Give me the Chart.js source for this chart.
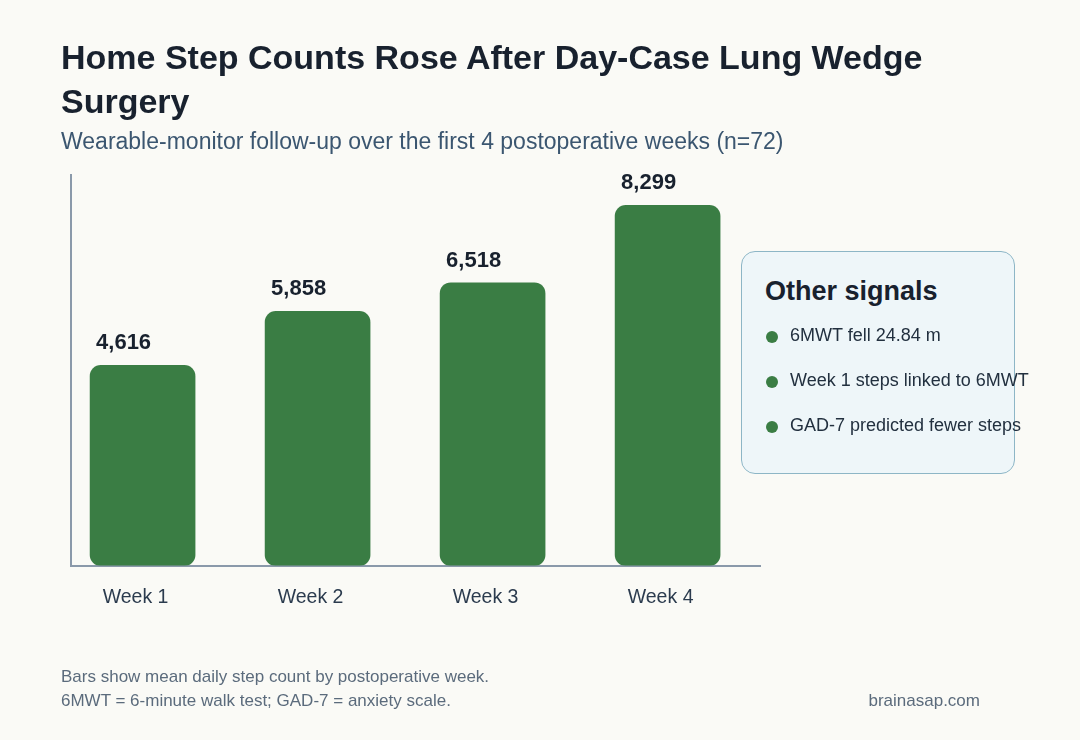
<!DOCTYPE html>
<html>
<head>
<meta charset="utf-8">
<script src="https://cdn.jsdelivr.net/npm/chart.js@4"></script>
<style>
  html, body { margin: 0; padding: 0; }
  body {
    width: 1080px; height: 740px; position: relative; overflow: hidden;
    background: #fafaf6; font-family: "Liberation Sans", Arial, sans-serif;
  }
  #chartWrap { position: absolute; left: 0; top: 0; width: 1080px; height: 740px; }
  .title {
    position: absolute; left: 61px; top: 35px; width: 900px;
    font-size: 34px; font-weight: bold; line-height: 44px; color: #18212e;
  }
  .subtitle {
    position: absolute; left: 61px; top: 128px;
    font-size: 23px; color: #3b5670;
  }
  .note {
    position: absolute; left: 741px; top: 251px; width: 274px; height: 223px;
    box-sizing: border-box; border: 1.5px solid #8db6c6; border-radius: 14px;
    background: #eef6f9;
  }
  .note h3 { margin: 0; position: absolute; left: 23px; top: 24px; font-size: 27px; color: #18212e; }
  .note ul { list-style: none; margin: 0; padding: 0; position: absolute; left: 23px; top: 73px; }
  .note li { font-size: 18px; color: #22303f; height: 45px; position: relative; padding-left: 25px; white-space: nowrap; }
  .note li::before {
    content: ""; position: absolute; left: 1px; top: 6px; width: 12px; height: 12px;
    border-radius: 50%; background: #3a7d44;
  }
  .foot { position: absolute; font-size: 17px; color: #5b6b7c; }
</style>
</head>
<body>
<div id="chartWrap"><canvas id="stepsChart" width="1080" height="740"></canvas></div>
<div class="title">Home Step Counts Rose After Day-Case Lung Wedge Surgery</div>
<div class="subtitle">Wearable-monitor follow-up over the first 4 postoperative weeks (n=72)</div>
<div class="note">
  <h3>Other signals</h3>
  <ul>
    <li>6MWT fell 24.84 m</li>
    <li>Week 1 steps linked to 6MWT</li>
    <li>GAD-7 predicted fewer steps</li>
  </ul>
</div>
<div class="foot" style="left:61px; top:667px;">Bars show mean daily step count by postoperative week.</div>
<div class="foot" style="left:61px; top:691px;">6MWT = 6-minute walk test; GAD-7 = anxiety scale.</div>
<div class="foot" style="right:100px; top:691px;">brainasap.com</div>

<script>
const weeks = ['Week 1', 'Week 2', 'Week 3', 'Week 4'];
const meanSteps = [4616, 5858, 6518, 8299];

const barGreen = '#3a7d44';
const axisGrey = '#8a99aa';

// value labels sit just above each bar, nudged toward the left
const valueLabels = {
    id: 'valueLabels',
    afterDatasetsDraw(chart) {
        const ctx = chart.ctx;
        const meta = chart.getDatasetMeta(0);
        ctx.save();
        ctx.font = 'bold 22px "Liberation Sans", Arial, sans-serif';
        ctx.fillStyle = '#18212e';
        ctx.textAlign = 'center';
        ctx.textBaseline = 'bottom';
        meta.data.forEach((bar, i) => {
            ctx.fillText(meanSteps[i].toLocaleString('en-US'), bar.x - 19, bar.y - 11);
        });
        ctx.restore();
    }
};

const ctx = document.getElementById('stepsChart').getContext('2d');
new Chart(ctx, {
    type: 'bar',
    data: {
        datasets: [{
            data: meanSteps.map((v, i) => ({ x: i + 1, y: v })),
            backgroundColor: barGreen,
            borderRadius: 11,
            borderSkipped: false,
            barThickness: 105
        }]
    },
    options: {
        responsive: false,
        animation: false,
        layout: { padding: { left: 71, right: 320, top: 175, bottom: 111 } },
        plugins: { legend: { display: false }, tooltip: { enabled: false } },
        scales: {
            x: {
                type: 'linear',
                offset: false,
                min: 0.591,
                max: 4.528,
                afterBuildTicks: (axis) => { axis.ticks = weeks.map((w, i) => ({ value: i + 1 })); },
                ticks: {
                    callback: (v) => weeks[v - 1],
                    font: { size: 19.5, family: '"Liberation Sans", Arial, sans-serif' },
                    color: '#2b3b4e',
                    padding: 20,
                    labelOffset: -7,
                    maxRotation: 0
                },
                grid: { display: false, drawTicks: false },
                border: { color: axisGrey, width: 2 }
            },
            y: {
                min: 0,
                max: 9000,
                ticks: { display: false },
                grid: { display: false, drawTicks: false },
                border: { color: axisGrey, width: 2 }
            }
        }
    },
    plugins: [valueLabels]
});
</script>
</body>
</html>
